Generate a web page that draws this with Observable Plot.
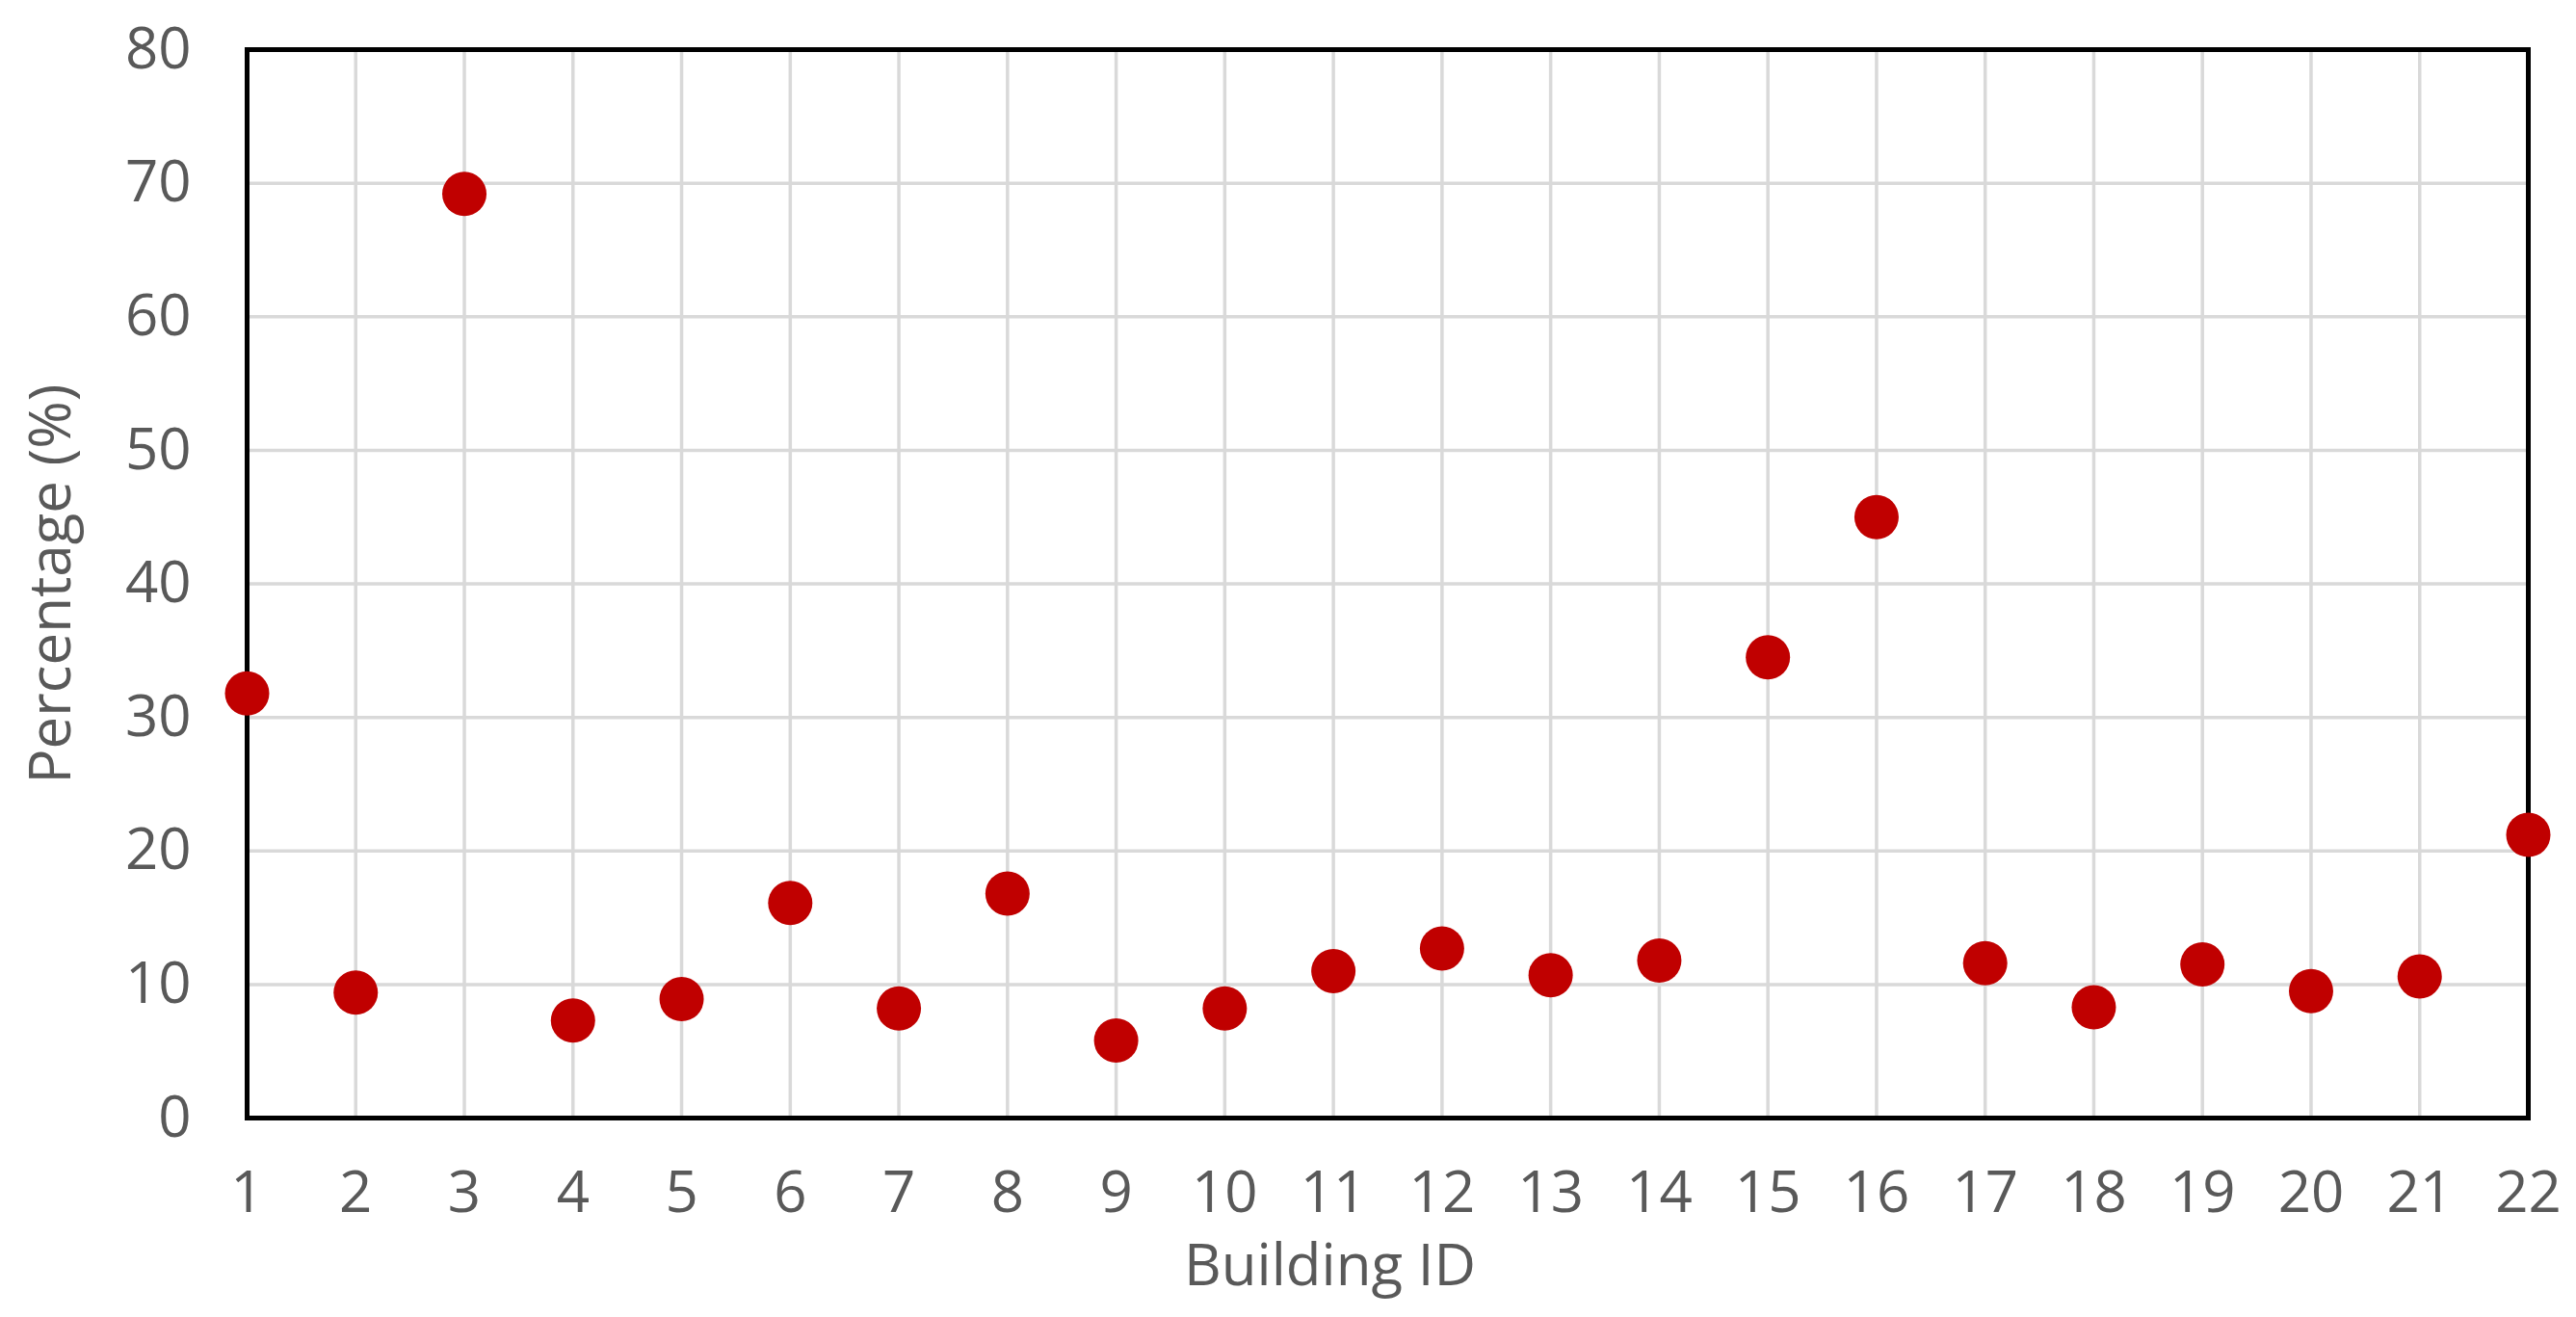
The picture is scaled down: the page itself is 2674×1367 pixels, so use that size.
<!DOCTYPE html>
<html>
<head>
<meta charset="utf-8">
<script src="https://cdn.jsdelivr.net/npm/d3@7"></script>
<script src="https://cdn.jsdelivr.net/npm/@observablehq/plot@0.6"></script>
<style>
  html, body { margin: 0; padding: 0; background: #ffffff; }
  #chart svg { display: block; }
</style>
</head>
<body>
<div id="chart"></div>
<script>
const buildingIds = [1, 2, 3, 4, 5, 6, 7, 8, 9, 10, 11, 12, 13, 14, 15, 16, 17, 18, 19, 20, 21, 22];
const percentages = [31.8, 9.4, 69.2, 7.3, 8.9, 16.1, 8.2, 16.8, 5.8, 8.2, 11.0, 12.7, 10.7, 11.8, 34.5, 45.0, 11.6, 8.3, 11.5, 9.5, 10.6, 21.2];
const yTicks = [0, 10, 20, 30, 40, 50, 60, 70, 80];
const xLabel = "Building ID";
const yLabel = "Percentage (%)";

const data = buildingIds.map((id, i) => ({id, value: percentages[i]}));

const chart = Plot.plot({
  width: 2674,
  height: 1367,
  marginLeft: 256,
  marginRight: 50,
  marginTop: 51,
  marginBottom: 207,
  style: {fontFamily: "'Open Sans', sans-serif", fontSize: "60px", color: "#595959", background: "#ffffff"},
  x: {type: "linear", domain: [1, 22]},
  y: {type: "linear", domain: [0, 80]},
  marks: [
    Plot.gridX(buildingIds, {stroke: "#d9d9d9", strokeOpacity: 1, strokeWidth: 3.5}),
    Plot.gridY(yTicks, {stroke: "#d9d9d9", strokeOpacity: 1, strokeWidth: 3.5}),
    Plot.axisX(buildingIds, {tickSize: 0, tickPadding: 55, label: null, tickFormat: d => String(d), fill: "#595959"}),
    Plot.axisY(yTicks, {tickSize: 0, tickPadding: 58, label: null, tickFormat: d => String(d), fill: "#595959"}),
    Plot.frame({stroke: "#000000", strokeWidth: 5}),
    Plot.dot(data, {x: "id", y: "value", r: 23, fill: "#c00000", stroke: "none", clip: false}),
    Plot.text([xLabel], {frameAnchor: "bottom", lineAnchor: "bottom", textAnchor: "middle", dy: 173, dx: -60, fill: "#595959", fontSize: 60}),
    Plot.text([yLabel], {frameAnchor: "left", textAnchor: "middle", lineAnchor: "middle", dx: -203, rotate: -90, fill: "#595959", fontSize: 60})
  ]
});

document.getElementById("chart").appendChild(chart);
</script>
</body>
</html>
